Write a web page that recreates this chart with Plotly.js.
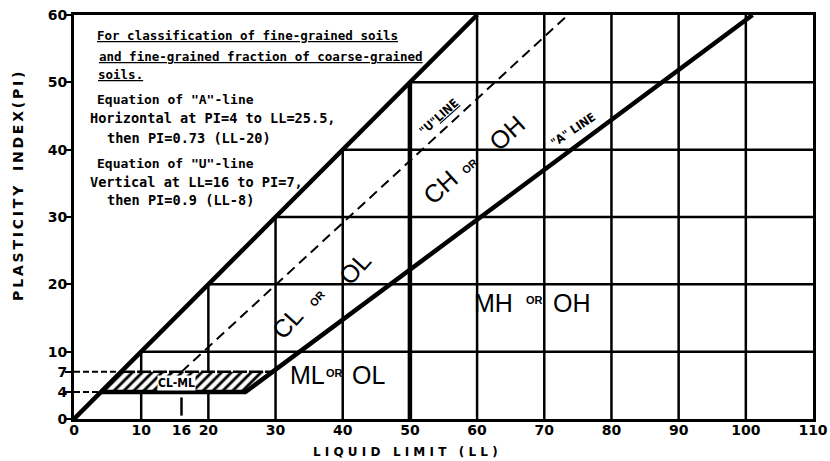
<!DOCTYPE html>
<html>
<head>
<meta charset="utf-8">
<script src="https://cdn.plot.ly/plotly-3.0.1.min.js"></script>
<style>html,body{margin:0;padding:0;background:#fff}#chart{width:830px;height:461px}</style>
</head>
<body>
<div id="chart"></div>
<script>
// ---- data ----
const xTicks = [0, 10, 16, 20, 30, 40, 50, 60, 70, 80, 90, 100, 110];
const yTicks = [0, 4, 7, 10, 20, 30, 40, 50, 60];
const gridLL = [10, 20, 30, 40, 60, 70, 80, 90, 100];   // vertical grid lines
const gridPI = [10, 20, 30, 40, 50];                    // horizontal grid lines
const upperLL = [0, 60];            // PI = LL limit line
const upperPI = [0, 60];
const aLineLL = [4, 25.5, 101];     // "A" line: PI=4 to LL=25.5, then PI=0.73(LL-20)
const aLinePI = [4, 4, 60];
const uLineLL = [16, 73.5];         // "U" line: PI=0.9(LL-8)
const uLinePI = [7, 60];
const uVertLL = [16, 16];
const uVertPI = [0.5, 3.2];
const ll50LL = [50, 50];
const ll50PI = [0, 50];
const clmlLL = [4, 25.5, 29.6, 7, 4];
const clmlPI = [4, 4, 7, 7, 4];
const clmlTopLL = [7, 29.6];
const clmlTopPI = [7, 7];
const dash7LL = [0, 7];
const dash7PI = [7, 7];
const dash4LL = [0, 4];
const dash4PI = [4, 4];
const noteLines = [
  '<u>For classification of fine-grained soils</u>',
  '<u>and fine-grained fraction of coarse-grained</u>',
  '<u>soils.</u>',
  'Equation of "A"-line',
  'Horizontal at PI=4 to LL=25.5,',
  'then PI=0.73 (LL-20)',
  'Equation of "U"-line',
  'Vertical at LL=16 to PI=7,',
  'then PI=0.9 (LL-8)'
];
const zoneWords = ['CL', 'OR', 'OL', 'CH', 'OR', 'OH', 'MH', 'OR', 'OH', 'ML', 'OR', 'OL'];

// ---- build ----
const gx = [], gy = [];
gridLL.forEach(v => { gx.push(v, v, null); gy.push(0, Math.min(v, 60), null); });
gridPI.forEach(v => { gx.push(v, 110, null); gy.push(v, v, null); });

const blk = 'black';
const traces = [
  {x: gx, y: gy, mode: 'lines', line: {color: blk, width: 2.5}},
  {x: clmlLL, y: clmlPI, mode: 'lines', fill: 'toself', line: {width: 0, color: 'rgba(0,0,0,0)'},
   fillcolor: 'white',
   fillpattern: {shape: '/', size: 7, solidity: 0.4, fgcolor: blk, bgcolor: 'white'}},
  {x: dash7LL, y: dash7PI, mode: 'lines', line: {color: blk, width: 2, dash: '6px,3px'}},
  {x: dash4LL, y: dash4PI, mode: 'lines', line: {color: blk, width: 2, dash: '6px,3px'}},
  {x: clmlTopLL, y: clmlTopPI, mode: 'lines', line: {color: blk, width: 2.5, dash: '14px,2px'}},
  {x: uLineLL, y: uLinePI, mode: 'lines', line: {color: blk, width: 2, dash: '10px,6px'}},
  {x: uVertLL, y: uVertPI, mode: 'lines', line: {color: blk, width: 2.5}},
  {x: ll50LL, y: ll50PI, mode: 'lines', line: {color: blk, width: 4.5}},
  {x: upperLL, y: upperPI, mode: 'lines', line: {color: blk, width: 4.5}},
  {x: aLineLL, y: aLinePI, mode: 'lines', line: {color: blk, width: 4.5}}
].map(t => Object.assign({type: 'scatter', hoverinfo: 'skip', showlegend: false, cliponaxis: true}, t));

const notePos = [[3.1, 56.9, 12.5], [3.4, 53.8, 12.5], [3.3, 51.1, 12.5], [3.1, 47.4, 13],
                 [2.1, 44.7, 13.6], [4.6, 41.7, 13.6], [3.1, 38.0, 13], [2.1, 35.2, 13.6], [4.6, 32.5, 13.6]];
const annotations = noteLines.map((t, i) => ({
  text: '<b>' + t + '</b>', x: notePos[i][0], y: notePos[i][1], xref: 'x', yref: 'y',
  xanchor: 'left', yanchor: 'middle', showarrow: false,
  font: {family: 'DejaVu Sans Mono', size: notePos[i][2], color: blk}
}));

const zonePos = [[31.7, 14.3, -48], [36.3, 17.9, -48], [41.8, 22.4, -48],
                 [54.5, 34.5, -42], [58.9, 37.6, -42], [64.4, 42.5, -42],
                 [62.4, 17.2, 0], [68.6, 17.6, 0], [74.1, 17.2, 0],
                 [34.7, 6.5, 0], [38.8, 6.9, 0], [43.8, 6.5, 0]];
zoneWords.forEach((w, i) => {
  const small = w === 'OR';
  annotations.push({
    text: small ? '<b>' + w + '</b>' : w, x: zonePos[i][0], y: zonePos[i][1], xref: 'x', yref: 'y',
    textangle: zonePos[i][2], showarrow: false,
    font: {family: 'Liberation Sans', size: small ? 11 : 25, color: blk}
  });
});
annotations.push(
  {text: '<b>"U"<u>LINE</u></b>', x: 54.3, y: 44.9, xref: 'x', yref: 'y', textangle: -42, showarrow: false,
   font: {family: 'DejaVu Sans Condensed', size: 12, color: blk}},
  {text: '<b>"A" LINE</b>', x: 74.3, y: 42.9, xref: 'x', yref: 'y', textangle: -34, showarrow: false,
   font: {family: 'DejaVu Sans Condensed', size: 12, color: blk}},
  {text: '<b>CL-ML</b>', x: 15.3, y: 5.4, xref: 'x', yref: 'y', showarrow: false, bgcolor: 'white', borderpad: 0,
   font: {family: 'DejaVu Sans Condensed', size: 12, color: blk}},
  {text: '<b>L I Q U I D\u00a0\u00a0 L I M I T\u00a0\u00a0 ( L L )</b>', x: 0.448, y: -0.082, xref: 'paper', yref: 'paper',
   xanchor: 'center', yanchor: 'middle',
   showarrow: false, font: {family: 'DejaVu Sans', size: 12, color: blk}},
  {text: '<b>P\u2009L\u2009A\u2009S\u2009T\u2009I\u2009C\u2009I\u2009T\u2009Y\u00a0\u00a0 I\u2009N\u2009D\u2009E\u2009X\u2009(\u2009P\u2009I\u2009)</b>',
   x: -0.0758, y: 0.577, xref: 'paper', yref: 'paper', textangle: -90, xanchor: 'center', yanchor: 'middle',
   showarrow: false, font: {family: 'DejaVu Sans', size: 14, color: blk}}
);

const axisCommon = {
  showgrid: false, zeroline: false, showline: true, linecolor: blk, linewidth: 3, mirror: true,
  tickfont: {family: 'DejaVu Sans', size: 14, color: blk, weight: 'bold'}, fixedrange: true
};
const layout = {
  width: 830, height: 461,
  margin: {l: 74, r: 17, t: 15, b: 42},
  paper_bgcolor: 'white', plot_bgcolor: 'white',
  showlegend: false,
  xaxis: Object.assign({}, axisCommon, {range: [0, 110], tickmode: 'array', tickvals: xTicks, ticktext: xTicks.map(String),
    ticks: '', ticklabelstandoff: -4}),
  yaxis: Object.assign({}, axisCommon, {range: [0, 60], tickmode: 'array', tickvals: yTicks, ticktext: yTicks.map(String),
    ticks: 'outside', ticklen: 6, tickwidth: 2, tickcolor: blk, ticklabelstandoff: -5}),
  annotations: annotations
};
Plotly.newPlot('chart', traces, layout, {displayModeBar: false, staticPlot: true});
</script>
</body>
</html>
